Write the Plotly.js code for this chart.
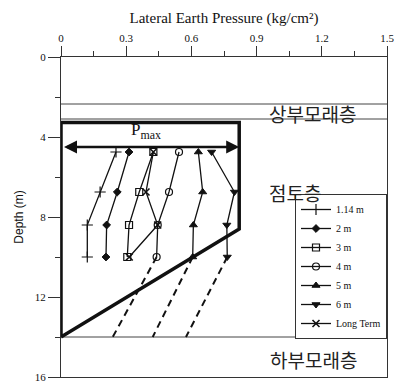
<!DOCTYPE html>
<html>
<head>
<meta charset="utf-8">
<script src="https://cdn.plot.ly/plotly-3.0.1.min.js"></script>
<style>html,body{margin:0;padding:0;background:#fff;}#chart{width:394px;height:384px;}</style>
</head>
<body>
<div id="chart"></div>
<script>
// ---- data ----
const depths = [4.75, 6.75, 8.4, 10.0];
const p114 = [0.253, 0.180, 0.121, 0.121];
const p2m = [0.313, 0.259, 0.210, 0.207];
const p3m = [0.425, 0.360, 0.313, 0.305];
const p4m = [0.543, 0.497, 0.445, 0.440];
const p5m = [0.632, 0.652, 0.609, 0.606];
const p6m = [0.693, 0.798, 0.763, 0.765];
const pLongTerm = [0.425, 0.391, 0.445, 0.314];
const seriesNames = ['1.14 m', '2 m', '3 m', '4 m', '5 m', '6 m', 'Long Term'];

const extDepths = [10, 14];
const ext4m = [0.440, 0.238];
const ext5m = [0.606, 0.422];
const ext6m = [0.765, 0.575];

const envelopeDepths = [14, 3.28, 3.28, 8.6, 14];
const envelopePressure = [0, 0, 0.82, 0.82, 0];
const pmaxValue = 0.82;
const pmaxDepth = 4.5;

const layerBounds = [2.35, 3.1, 14];
const layerNames = ['상부모래층', '점토층', '하부모래층'];
const layerLabelX = [1.155, 1.077, 1.164];
const layerLabelY = [2.82, 6.75, 15.1];

const xTickVals = [0, 0.3, 0.6, 0.9, 1.2, 1.5];
const yTickVals = [0, 4, 8, 12, 16];

// ---- styles ----
const serif = 'Liberation Serif, Times New Roman, serif';
const ink = '#111';
const seriesValues = [p114, p2m, p3m, p4m, p5m, p6m, pLongTerm];
const markerSpecs = [
  {symbol: 'cross-thin-open', size: 8, line: {width: 1.2, color: ink}},
  {symbol: 'diamond', size: 6, color: ink, line: {width: 1, color: ink}},
  {symbol: 'square-open', size: 7, color: ink, line: {width: 1.2, color: ink}},
  {symbol: 'circle-open', size: 7, color: ink, line: {width: 1.2, color: ink}},
  {symbol: 'triangle-up', size: 7, color: ink, line: {width: 1, color: ink}},
  {symbol: 'triangle-down', size: 7, color: ink, line: {width: 1, color: ink}},
  {symbol: 'x-thin-open', size: 7, line: {width: 1.6, color: ink}}
];

const traces = [];

// layer boundaries
layerBounds.forEach(d => {
  traces.push({x: [0, 1.5], y: [d, d], mode: 'lines', line: {color: '#444', width: 1},
    showlegend: false, hoverinfo: 'skip'});
});

// envelope
traces.push({x: envelopePressure, y: envelopeDepths, mode: 'lines',
  line: {color: ink, width: 3.5}, showlegend: false, hoverinfo: 'skip'});

// dashed extrapolations
[ext4m, ext5m, ext6m].forEach(e => {
  traces.push({x: e, y: extDepths, mode: 'lines', line: {color: ink, width: 2, dash: '7px,5px'},
    showlegend: false, hoverinfo: 'skip'});
});

// measured series
seriesValues.forEach((vals, i) => {
  traces.push({x: vals, y: depths, name: seriesNames[i], mode: 'lines+markers',
    line: {color: ink, width: 1.3}, marker: Object.assign({color: ink}, markerSpecs[i]),
    cliponaxis: false});
});

const annotations = [];
layerNames.forEach((t, i) => {
  annotations.push({x: layerLabelX[i], y: layerLabelY[i], xref: 'x', yref: 'y', text: t,
    showarrow: false, font: {family: 'Noto Sans CJK KR', size: 19, color: '#222'}});
});
annotations.push({x: pmaxValue, y: pmaxDepth, ax: 0, ay: pmaxDepth, axref: 'x', ayref: 'y',
  xref: 'x', yref: 'y', text: ' ', showarrow: true, arrowhead: 2, arrowside: 'end+start',
  arrowwidth: 2.6, arrowsize: 1, arrowcolor: ink, standoff: 0, startstandoff: 0});
annotations.push({x: 0.39, y: 3.7, xref: 'x', yref: 'y', text: 'P<sub>max</sub>',
  showarrow: false, font: {family: serif, size: 17, color: ink}});

const layout = {
  width: 394, height: 384,
  margin: {l: 61, r: 7, t: 57, b: 7},
  paper_bgcolor: '#fff', plot_bgcolor: '#fff',
  showlegend: true,
  legend: {x: 1, xanchor: 'right', y: 1 - 14.1 / 16, yanchor: 'bottom',
    bgcolor: '#fff', bordercolor: '#333', borderwidth: 1,
    font: {family: serif, size: 10, color: ink}, tracegroupgap: 0},
  xaxis: {
    side: 'top', range: [0, 1.5], tickvals: xTickVals, ticktext: xTickVals.map(String),
    ticks: 'outside', ticklen: 10, tickwidth: 1, tickcolor: '#333',
    ticklabeloverflow: 'allow',
    minor: {dtick: 0.15, ticks: 'outside', ticklen: 5, tickcolor: '#333', tick0: 0},
    showline: true, mirror: true, linecolor: '#333', linewidth: 1,
    showgrid: false, zeroline: false,
    tickfont: {family: serif, size: 11, color: ink},
    title: {text: 'Lateral Earth Pressure (kg/cm²)', standoff: 4,
      font: {family: serif, size: 15, color: ink}}
  },
  yaxis: {
    range: [16, 0], tickvals: yTickVals,
    ticks: 'outside', ticklen: 12, tickwidth: 1, tickcolor: '#333',
    minor: {dtick: 2, tick0: 0, ticks: 'outside', ticklen: 5, tickcolor: '#333'},
    showline: true, mirror: true, linecolor: '#333', linewidth: 1,
    showgrid: false, zeroline: false,
    tickfont: {family: serif, size: 11, color: ink},
    title: {text: 'Depth (m)', standoff: 8,
      font: {family: 'Liberation Sans, Arial, sans-serif', size: 12, color: ink}}
  },
  annotations: annotations
};

Plotly.newPlot('chart', traces, layout, {staticPlot: true, displayModeBar: false});
</script>
</body>
</html>
